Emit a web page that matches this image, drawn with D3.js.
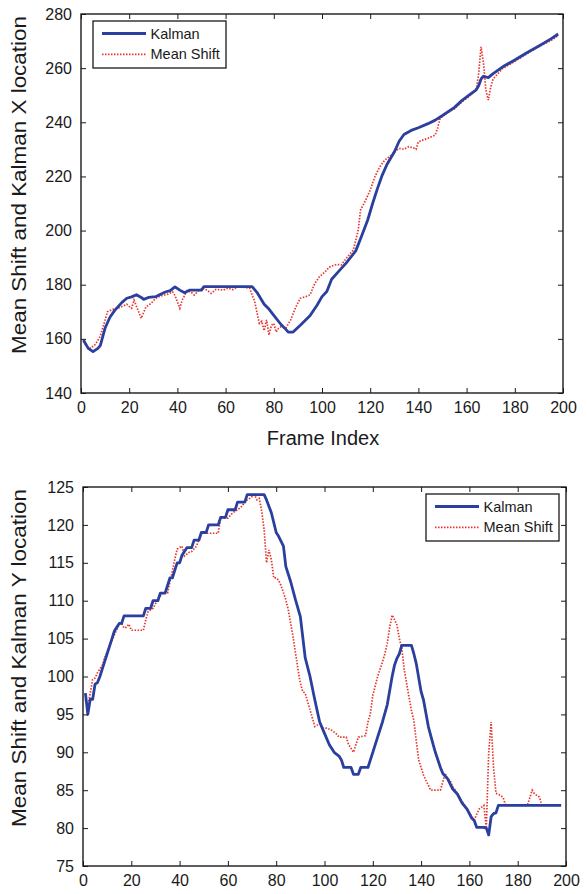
<!DOCTYPE html>
<html>
<head>
<meta charset="utf-8">
<script src="https://cdn.jsdelivr.net/npm/d3@7"></script>
<style>
  body { margin: 0; background: #fff; }
  svg { display: block; font-family: "Liberation Sans", Arial, Helvetica, sans-serif; }
</style>
</head>
<body>
<svg id="chart" width="587" height="894"></svg>
<script>
// ---------- DATA ----------
const seriesNames = ["Kalman", "Mean Shift"];

// Top chart: X location
const xKalmanFrames = [1,3,5,7,8,10,12,14,17,19,21,23,25,26,28,31,33,35,37,39,41,43,45,50,51,71,73,76,78,80,83,85,86,88,91,95,98,100,102,104,107,110,114,116,119,121,123,125,127,130,132,134,137,140,144,147,150,155,158,161,164,165,166,167,169,171,175,180,185,190,195,198];
const xKalmanValues = [159.6,156.5,155.3,156.5,157.5,164,168,170.5,173.5,175,175.5,176.3,175.3,174.6,175.3,175.6,176.5,177.3,177.8,179.2,178,177,178,178,179.3,179.3,177.2,172.8,171,168.7,165.3,163.5,162.5,162.5,165,168.5,172.5,175.6,177.5,182,185,188,192.5,197,204,210,215.5,220.5,224.5,229,233,235.5,237,238,239.5,240.8,242.5,245.5,248,250,252,253.5,256,257,256.5,258,260.5,263,265.7,268.2,270.8,272.6];

const xMeanFrames = [1,2,4,6,8,10,11,13,16,19,20,21,22,23,25,27,29,31,33,36,38,39,41,42,44,46,47,49,51,53,54,56,59,61,63,65,68,70,71,72,74,75,76,77,78,79,80,81,82,83,85,87,89,91,93,95,97,99,101,103,106,108,110,113,115,116,118,120,122,124,126,128,130,132,134,136,138,139,140,142,144,147,148,149,152,155,158,161,164,165,166,167,168,169,170,171,173,175,180,185,190,195,198];
const xMeanValues = [159,157.5,156.5,158,161,167,170,170.9,171.5,172.8,172,171.3,174.3,172,167.6,171.9,173,175,175.8,176.5,177.4,176,171.3,174.3,177.8,177,176.2,178,178.7,177.5,176.8,178.3,178,178.8,178.2,179.3,179,178.7,176.2,174,165.7,166.5,163,167,161.4,165,165.7,162.5,163.9,164.5,164,167,171.5,175,175.5,176.2,180.5,183,184.5,186.5,187.5,187.3,189.7,192.8,200,207.6,211,215,220,223.6,226,227.3,229,230.4,230,231,230.5,230,232.8,233.5,234.1,235.3,238,241.5,243.5,245,247.5,249.5,252,258,267.9,262,252,248.2,253,256,258,259.9,262.5,265.3,268,270.2,272];

// Bottom chart: Y location
const yKalmanFrames = [1,2,3,4,5,6,7,8,9,10,12,13,15,16,17,25,26,28,29,31,32,34,35,36,37,38,39,40,41,43,45,46,48,49,51,52,56,57,59,60,63,64,67,68,75,76,78,80,81,83,84,86,88,90,92,94,96,98,100,102,104,106,107,108,111,112,114,115,118,120,122,124,126,128,129,130,131,132,136,137,138,140,141,143,145,146,148,149,151,153,155,157,159,161,162,163,166,167,168,169,170,171,172,198];
const yKalmanValues = [97.8,95,97,97,99,99.2,100,101,102,103,105,106,107,107,108,108,109,109,110,110,111,111,112,113,113,114,115,115,116,117,117,118,118,119,119,120,120,121,121,122,122,123,123,124,124,123.3,121.6,119,118.5,117.2,114.5,112.5,110.1,107.9,102.5,100,96.9,94,92.5,91,90,89.5,89,88,88,87.1,87.1,88,88,90,92,94,96.3,100,101.5,102.4,103,104.1,104.1,103,101.7,98,96.9,93.4,91,89.9,88,87.2,86.5,85.2,84.5,83.3,82.5,81.3,81,80.1,80.1,80,79.1,81.5,81.9,82,83,83];

const yMeanFrames = [1,2,3,4,5,6,8,9,11,13,15,16,17,18,19,20,25,26,27,29,31,33,35,36,37,38,39,40,41,42,44,45,47,49,56,57,60,62,64,66,67,69,71,72,73,74,75,76,77,78,79,80,81,82,84,85,87,89,90,91,92,94,95,96,98,99,101,103,105,106,109,110,112,113,114,117,118,119,120,122,124,125,126,127,128,129,130,131,132,133,134,136,137,138,139,141,142,144,148,150,151,152,153,155,157,159,161,162,164,166,167,168,169,170,171,173,174,175,184,186,187,189,190,198];
const yMeanValues = [97,96.1,97.8,99.6,99.8,100.5,101.5,102.5,104,105.5,106.9,107,106.4,106.5,106.9,106.1,106.1,107.5,108.6,109,110.2,111,111,112.5,113.9,115.5,116.8,117,117.2,115.9,116.4,116.5,117.2,118.9,118.9,120.9,120.9,121.6,122,122.5,123.1,123.5,124,123.3,123.5,121.8,119.4,115,116.7,115.4,113,113,112.7,112,110.1,108.8,105.2,101,99.1,98,97.8,95.6,94.5,93.4,93.8,93.2,93.2,92.9,92.4,92,92,91,90,91,92,92.2,94,95.1,97.5,100,101.9,103,104.4,106.5,108.1,107.5,106.8,105,103.7,101,99.1,95.5,94.2,91.5,89,87,86.3,85,85,87.2,86.5,86.3,85.5,84.6,83.5,82.6,81.5,81.1,82.5,83,80,90,94,88,84.6,84.3,84,83,83,85,84.5,84.1,83,83];

const xTicks = [0,20,40,60,80,100,120,140,160,180,200];
const topYTicks = [140,160,180,200,220,240,260,280];
const botYTicks = [75,80,85,90,95,100,105,110,115,120,125];

// ---------- DRAW ----------
const svg = d3.select("#chart");
const KAL = "#2b3f9e", MS = "#e8342c", INK = "#1a1a1a";

function panel(opt) {
  const x = d3.scaleLinear().domain([0, 200]).range([opt.left, opt.right]);
  const y = d3.scaleLinear().domain(opt.ydom).range([opt.bottom, opt.top]);
  const g = svg.append("g");

  const line = d3.line().x(d => x(d[0])).y(d => y(d[1]));
  const kal = opt.kf.map((f, i) => [f, opt.kv[i]]);
  const ms = opt.mf.map((f, i) => [f, opt.mv[i]]);

  g.append("path").datum(ms).attr("d", line)
    .attr("fill", "none").attr("stroke", MS).attr("stroke-width", 1.7)
    .attr("stroke-dasharray", "1.5,1.5");
  g.append("path").datum(kal).attr("d", line)
    .attr("fill", "none").attr("stroke", KAL).attr("stroke-width", 2.8)
    .attr("stroke-linejoin", "round");

  const tl = 5;
  const bx = d3.axisBottom(x).tickValues(xTicks).tickSizeInner(-tl).tickSizeOuter(0).tickPadding(9);
  const tx = d3.axisTop(x).tickValues(xTicks).tickSizeInner(-tl).tickSizeOuter(0).tickFormat("");
  const ly = d3.axisLeft(y).tickValues(opt.yticks).tickSizeInner(-tl).tickSizeOuter(0).tickPadding(9);
  const ry = d3.axisRight(y).tickValues(opt.yticks).tickSizeInner(-tl).tickSizeOuter(0).tickFormat("");

  const styleAxis = a => {
    a.select(".domain").remove();
    a.selectAll(".tick line").attr("stroke", INK).attr("stroke-width", 1);
    a.selectAll(".tick text").attr("fill", INK).style("font-size", "16px");
  };
  g.append("g").attr("transform", `translate(0,${opt.bottom})`).call(bx).call(styleAxis);
  g.append("g").attr("transform", `translate(0,${opt.top})`).call(tx).call(styleAxis);
  g.append("g").attr("transform", `translate(${opt.left},0)`).call(ly).call(styleAxis);
  g.append("g").attr("transform", `translate(${opt.right},0)`).call(ry).call(styleAxis);

  g.append("rect").attr("x", opt.left).attr("y", opt.top)
    .attr("width", opt.right - opt.left).attr("height", opt.bottom - opt.top)
    .attr("fill", "none").attr("stroke", INK).attr("stroke-width", 1.4);

  g.append("text")
    .attr("transform", `translate(${opt.ylabX},${opt.ylabY}) rotate(-90)`)
    .attr("text-anchor", "middle").attr("fill", INK).style("font-size", "19.5px")
    .attr("textLength", 338).attr("lengthAdjust", "spacingAndGlyphs")
    .text(opt.ylabel);

  if (opt.xlabel) {
    g.append("text").attr("x", opt.xlabX).attr("y", opt.xlabY)
      .attr("text-anchor", "middle").attr("fill", INK).style("font-size", "20px")
      .text(opt.xlabel);
  }

  const L = opt.legend;
  g.append("rect").attr("x", L.x).attr("y", L.y).attr("width", L.w).attr("height", L.h)
    .attr("fill", "#fff").attr("stroke", INK).attr("stroke-width", 1.3);
  const rows = [
    {name: seriesNames[0], color: KAL, w: 2.8, dash: null},
    {name: seriesNames[1], color: MS, w: 1.7, dash: "1.5,1.5"}
  ];
  rows.forEach((r, i) => {
    const yy = L.y + 12.5 + i * 20.8;
    g.append("line").attr("x1", L.x + 9).attr("x2", L.x + 53).attr("y1", yy).attr("y2", yy)
      .attr("stroke", r.color).attr("stroke-width", r.w).attr("stroke-dasharray", r.dash);
    g.append("text").attr("x", L.x + 57.5).attr("y", yy + 5)
      .attr("fill", INK).style("font-size", "14.5px").text(r.name);
  });
}

panel({
  left: 81, right: 563, top: 14, bottom: 393, ydom: [140, 280],
  kf: xKalmanFrames, kv: xKalmanValues, mf: xMeanFrames, mv: xMeanValues,
  yticks: topYTicks, ylabel: "Mean Shift and Kalman X location", ylabX: 26, ylabY: 185,
  xlabel: "Frame Index", xlabX: 323, xlabY: 445,
  legend: {x: 93, y: 21, w: 133, h: 47}
});

panel({
  left: 83, right: 566, top: 487, bottom: 866, ydom: [75, 125],
  kf: yKalmanFrames, kv: yKalmanValues, mf: yMeanFrames, mv: yMeanValues,
  yticks: botYTicks, ylabel: "Mean Shift and Kalman Y location", ylabX: 26, ylabY: 658,
  xlabel: null,
  legend: {x: 426, y: 494, w: 133, h: 47}
});
</script>
</body>
</html>
